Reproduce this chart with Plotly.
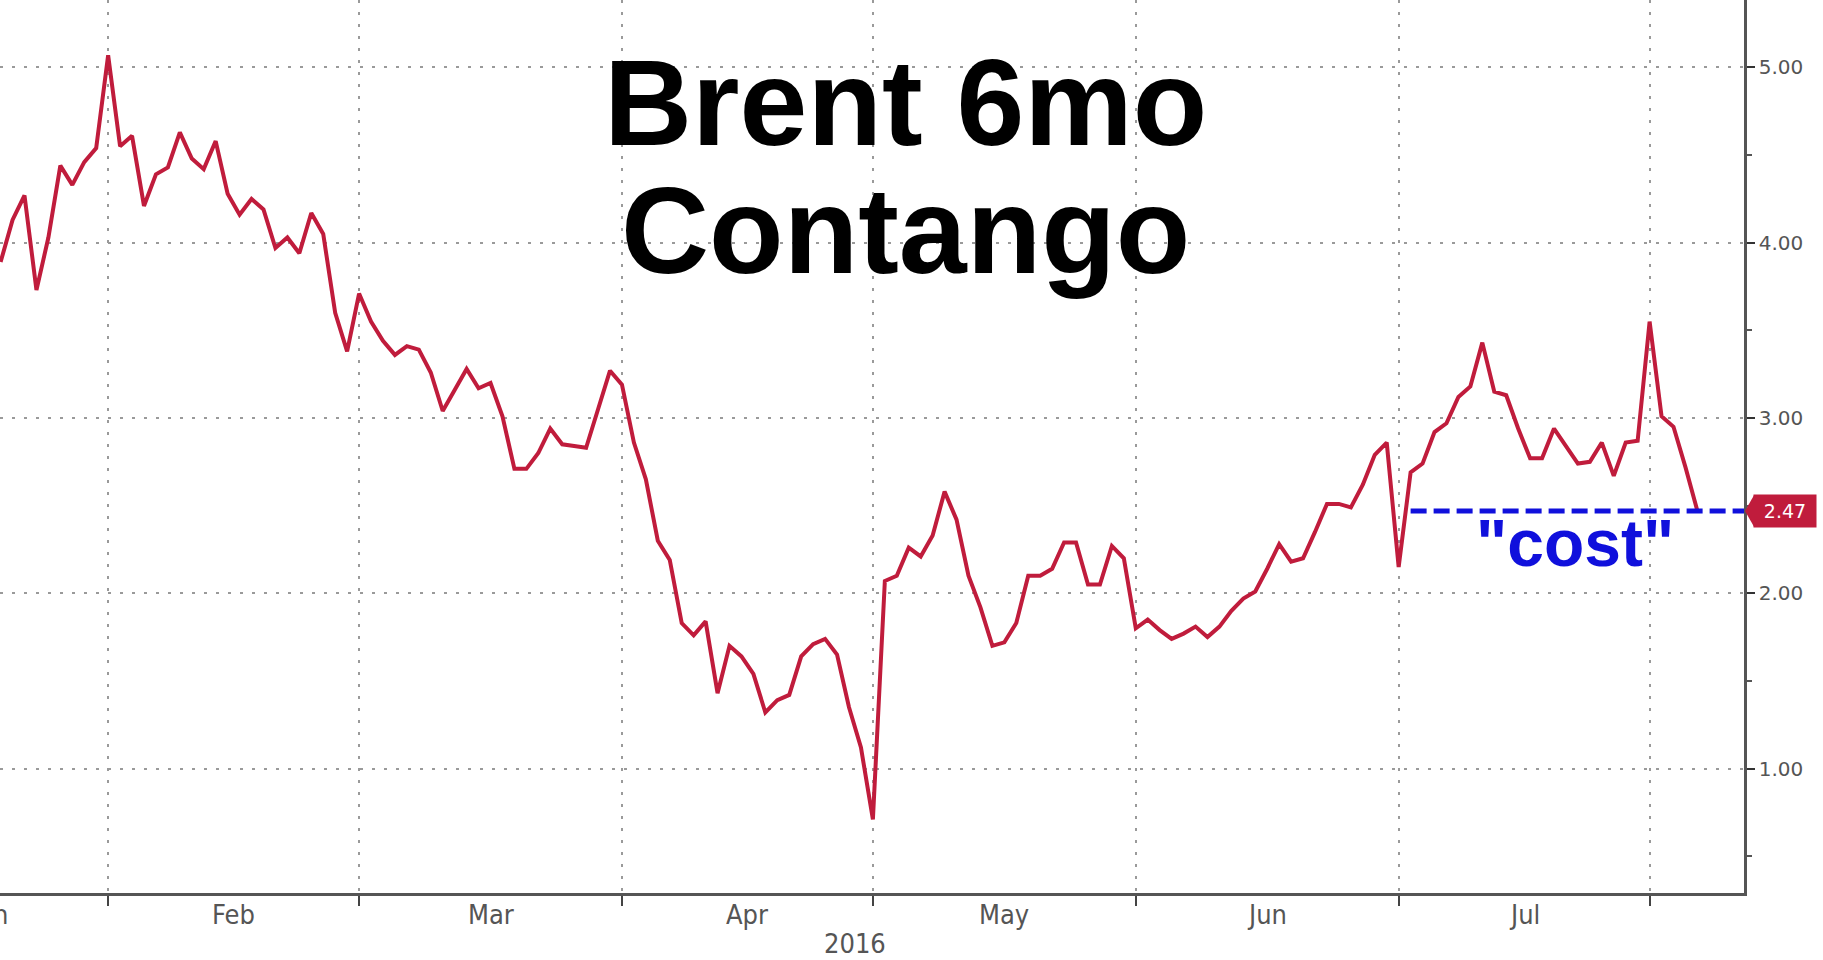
import plotly.graph_objects as go

# ---- data ----
dates = [
    "2016-01-19", "2016-01-20", "2016-01-21", "2016-01-22", "2016-01-25", "2016-01-26",
    "2016-01-27", "2016-01-28", "2016-01-29",
    "2016-02-01", "2016-02-02", "2016-02-03", "2016-02-04", "2016-02-05", "2016-02-08",
    "2016-02-09", "2016-02-10", "2016-02-11", "2016-02-12", "2016-02-15", "2016-02-16",
    "2016-02-17", "2016-02-18", "2016-02-19", "2016-02-22", "2016-02-23", "2016-02-24",
    "2016-02-25", "2016-02-26", "2016-02-29",
    "2016-03-01", "2016-03-02", "2016-03-03", "2016-03-04", "2016-03-07", "2016-03-08",
    "2016-03-09", "2016-03-10", "2016-03-11", "2016-03-14", "2016-03-15", "2016-03-16",
    "2016-03-17", "2016-03-18", "2016-03-21", "2016-03-22", "2016-03-23", "2016-03-24",
    "2016-03-28", "2016-03-29", "2016-03-30", "2016-03-31",
    "2016-04-01", "2016-04-04", "2016-04-05", "2016-04-06", "2016-04-07", "2016-04-08",
    "2016-04-11", "2016-04-12", "2016-04-13", "2016-04-14", "2016-04-15", "2016-04-18",
    "2016-04-19", "2016-04-20", "2016-04-21", "2016-04-22", "2016-04-25", "2016-04-26",
    "2016-04-27", "2016-04-28", "2016-04-29",
    "2016-05-02", "2016-05-03", "2016-05-04", "2016-05-05", "2016-05-06", "2016-05-09",
    "2016-05-10", "2016-05-11", "2016-05-12", "2016-05-13", "2016-05-16", "2016-05-17",
    "2016-05-18", "2016-05-19", "2016-05-20", "2016-05-23", "2016-05-24", "2016-05-25",
    "2016-05-26", "2016-05-27", "2016-05-30", "2016-05-31",
    "2016-06-01", "2016-06-02", "2016-06-03", "2016-06-06", "2016-06-07", "2016-06-08",
    "2016-06-09", "2016-06-10", "2016-06-13", "2016-06-14", "2016-06-15", "2016-06-16",
    "2016-06-17", "2016-06-20", "2016-06-21", "2016-06-22", "2016-06-23", "2016-06-24",
    "2016-06-27", "2016-06-28", "2016-06-29", "2016-06-30",
    "2016-07-01", "2016-07-04", "2016-07-05", "2016-07-06", "2016-07-07", "2016-07-08",
    "2016-07-11", "2016-07-12", "2016-07-13", "2016-07-14", "2016-07-15", "2016-07-18",
    "2016-07-19", "2016-07-20", "2016-07-21", "2016-07-22", "2016-07-25", "2016-07-26",
    "2016-07-27", "2016-07-28", "2016-07-29",
    "2016-08-01", "2016-08-02", "2016-08-03", "2016-08-04", "2016-08-05",
]
values = [
    3.89, 4.13, 4.27, 3.73, 4.03, 4.44, 4.33, 4.46, 4.54,
    5.07, 4.55, 4.61, 4.21, 4.39, 4.43, 4.63, 4.48, 4.42, 4.58, 4.28, 4.16,
    4.25, 4.19, 3.97, 4.03, 3.94, 4.17, 4.05, 3.60, 3.38,
    3.71, 3.55, 3.44, 3.36, 3.41, 3.39, 3.26, 3.04, 3.16, 3.28, 3.17, 3.20,
    3.01, 2.71, 2.71, 2.80, 2.94, 2.85, 2.84, 2.83, 3.05, 3.27,
    3.19, 2.86, 2.65, 2.30, 2.19, 1.83, 1.76, 1.84, 1.43, 1.70, 1.64, 1.54,
    1.32, 1.39, 1.42, 1.64, 1.71, 1.74, 1.65, 1.35, 1.12,
    0.71, 2.07, 2.10, 2.26, 2.21, 2.33, 2.58, 2.42, 2.10, 1.92, 1.70, 1.72,
    1.83, 2.10, 2.10, 2.14, 2.29, 2.29, 2.05, 2.05, 2.27, 2.20,
    1.80, 1.85, 1.79, 1.74, 1.77, 1.81, 1.75, 1.81, 1.90, 1.97, 2.01, 2.14,
    2.28, 2.18, 2.20, 2.35, 2.51, 2.51, 2.49, 2.62, 2.79, 2.86,
    2.15, 2.69, 2.74, 2.92, 2.97, 3.12, 3.18, 3.43, 3.15, 3.13, 2.94, 2.77,
    2.77, 2.94, 2.84, 2.74, 2.75, 2.86, 2.67, 2.86, 2.87,
    3.55, 3.01, 2.95, 2.72, 2.47,
]
month_names = {"01": "Jan", "02": "Feb", "03": "Mar", "04": "Apr",
               "05": "May", "06": "Jun", "07": "Jul", "08": "Aug"}
jan_sessions = 20            # trading sessions in January 2016
y_ticks = [1, 2, 3, 4, 5]
title_lines = ["Brent 6mo", "Contango"]
cost_text = '"cost"'
cost_level = 2.47
cost_start = "2016-07-04"
year_label = "2016"

# ---- styling ----
RED = "#c01c3c"
BLUE = "#1010dc"
AXIS = "#555555"
GRID = "#9a9a9a"
LABEL = "#555555"
XFONT = "Liberation Sans Narrow, DejaVu Sans Condensed, Arial Narrow, sans-serif"
YFONT = "DejaVu Sans, Verdana, sans-serif"
TFONT = "Liberation Sans, Arial, Helvetica, sans-serif"

# trading-day positions (Bloomberg style: sessions equally spaced)
x_pos = list(range(len(dates)))
month_starts = [i for i in range(1, len(dates)) if dates[i][5:7] != dates[i - 1][5:7]]
x_range = [-0.05, 145.9]
y_range = [0.29, 5.385]


def to_paper(xv):
    return (xv - x_range[0]) / (x_range[1] - x_range[0])


fig = go.Figure()
fig.add_trace(go.Scatter(x=x_pos, y=values, mode="lines",
                         line=dict(color=RED, width=4), hoverinfo="skip"))
i0 = dates.index(cost_start)
fig.add_trace(go.Scatter(x=[i0, x_range[1]], y=[cost_level, cost_level], mode="lines",
                         line=dict(color=BLUE, width=5, dash="16px,7px"), hoverinfo="skip"))

annotations = []
# month labels centred in each month period
first = month_starts[0]
label_spots = [((first - jan_sessions) + first) / 2.0]
label_texts = [month_names[dates[0][5:7]]]
for a, b in zip(month_starts[:-1], month_starts[1:]):
    label_spots.append((a + b) / 2.0)
    label_texts.append(month_names[dates[a][5:7]])
for xs, t in zip(label_spots, label_texts):
    annotations.append(dict(text=t, xref="paper", x=to_paper(xs), yref="paper", y=-0.0246,
                            xanchor="center", yanchor="middle", showarrow=False,
                            font=dict(family=XFONT, size=27, color=LABEL)))
annotations.append(dict(text=year_label, xref="paper", x=0.49, yref="paper", y=-0.0571,
                        xanchor="center", yanchor="middle", showarrow=False,
                        font=dict(family=XFONT, size=27, color=LABEL)))
# title
annotations.append(dict(text="<b>%s</b>" % title_lines[0], xref="paper", x=0.519, yref="paper",
                        y=0.885, xanchor="center", yanchor="middle", showarrow=False,
                        font=dict(family=TFONT, size=122, color="black")))
annotations.append(dict(text="<b>%s</b>" % title_lines[1], xref="paper", x=0.519, yref="paper",
                        y=0.741, xanchor="center", yanchor="middle", showarrow=False,
                        font=dict(family=TFONT, size=122, color="black")))
# "cost" label
annotations.append(dict(text="<b>%s</b>" % cost_text, xref="paper", x=0.903, yref="paper",
                        y=0.392, xanchor="center", yanchor="middle", showarrow=False,
                        font=dict(family=TFONT, size=66, color=BLUE)))
# last value tag
last_val = values[-1]
annotations.append(dict(text="%.2f" % last_val, xref="paper", x=1 + 9 / 1744.0, yref="y",
                        y=last_val, xanchor="left", yanchor="middle", showarrow=False,
                        width=60, height=30, bgcolor=RED,
                        font=dict(family=YFONT, size=19, color="white")))

shapes = [dict(type="path", xref="paper", yref="y",
               path="M %f,%f L %f,%f L %f,%f Z" % (1 + 1 / 1744.0, last_val,
                                                   1 + 10 / 1744.0, last_val + 0.09,
                                                   1 + 10 / 1744.0, last_val - 0.09),
               fillcolor=RED, line=dict(width=0))]

fig.update_layout(
    width=1823, height=960, autosize=False,
    margin=dict(l=0, r=79, t=0, b=67, pad=0),
    paper_bgcolor="white", plot_bgcolor="white",
    showlegend=False,
    annotations=annotations,
    shapes=shapes,
    xaxis=dict(range=x_range, tickmode="array", tickvals=month_starts, showticklabels=False,
               ticks="outside", ticklen=10, tickwidth=1.5, tickcolor="#444",
               showline=True, linecolor=AXIS, linewidth=2.5,
               showgrid=True, gridcolor=GRID, gridwidth=1.5, griddash="3px,9px",
               zeroline=False),
    yaxis=dict(side="right", range=y_range, tickmode="linear", tick0=0, dtick=1,
               tickformat=".2f", ticks="outside", ticklen=8, tickwidth=2, tickcolor="#333",
               showline=True, linecolor=AXIS, linewidth=2.5,
               showgrid=True, gridcolor=GRID, gridwidth=1.5, griddash="3px,9px",
               zeroline=False,
               minor=dict(dtick=0.5, ticks="outside", ticklen=5, tickwidth=1.5,
                          tickcolor="#555", showgrid=False),
               tickfont=dict(family=YFONT, size=20, color=LABEL)),
)

fig.write_html("out.html",
               config={"displayModeBar": False},
               post_script="document.body.style.margin='0';"
                           "document.body.style.overflow='hidden';")
